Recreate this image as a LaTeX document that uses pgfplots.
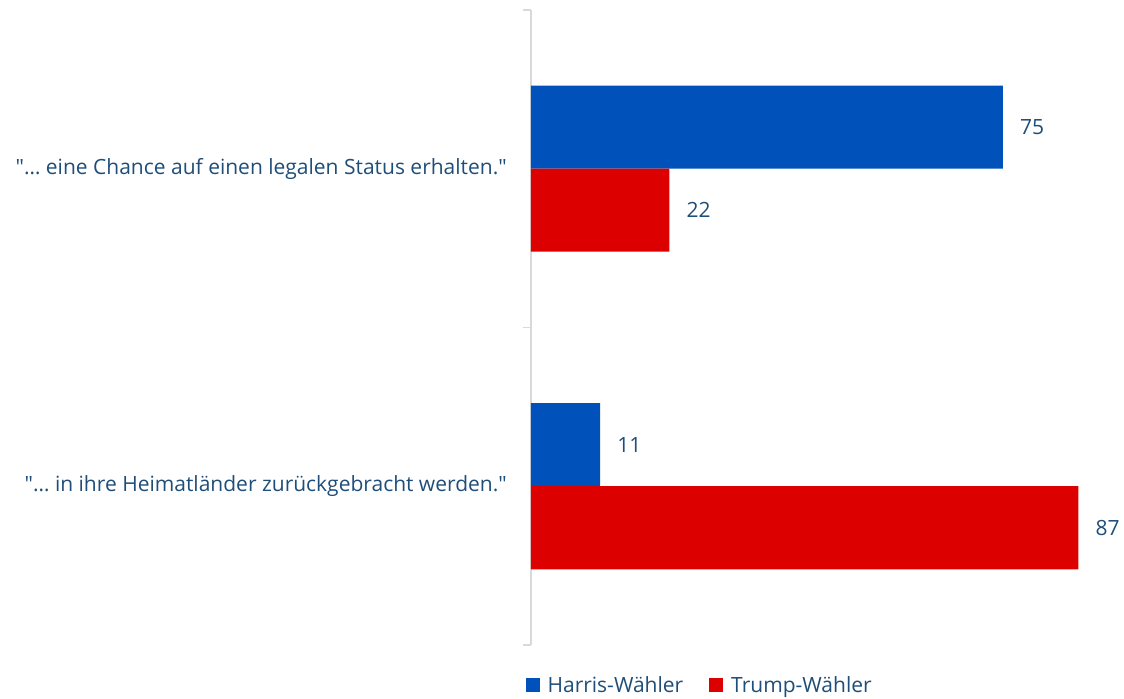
\documentclass[border=0pt]{standalone}
\usepackage{fontspec}
\setmainfont{Open Sans}[Ligatures=TeXOff]
\usepackage{pgfplots}
\pgfplotsset{compat=1.18}
\definecolor{harris}{RGB}{0,82,186}
\definecolor{trump}{RGB}{220,0,0}
\definecolor{txt}{RGB}{31,78,121}
\definecolor{axgray}{RGB}{217,217,217}
\newcommand{\q}{\char34\relax}
\begin{document}
\begin{tikzpicture}
\begin{axis}[
  name=ax,
  scale only axis,
  width=629.3bp, height=635bp,
  xbar, bar width=83bp,
  xmin=0, xmax=100,
  ymin=-0.5, ymax=1.5,
  axis x line=none,
  axis y line*=left,
  y axis line style={draw=axgray, line width=1.2bp},
  ytick={-0.5,0.5,1.5},
  yticklabels={},
  major y tick style={draw=axgray, line width=1.2bp},
  major tick length=8bp,
  tick align=outside,
  extra y ticks={0,1},
  extra y tick labels={{\q… in ihre Heimatländer zurückgebracht werden.\q},{\q… eine Chance auf einen legalen Status erhalten.\q}},
  extra y tick style={major tick length=0pt, tick style={draw=none}},
  yticklabel style={font=\fontsize{21bp}{24bp}\selectfont, text=txt, inner sep=0pt, xshift=-24bp},
  /pgf/number format/assume math mode=true,
  nodes near coords,
  every node near coord/.append style={font=\fontsize{21bp}{24bp}\selectfont, text=txt, anchor=west, inner sep=0pt, xshift=17bp},
  clip=false,
  legend columns=2,
  legend style={draw=none, at={(0.268,0)}, anchor=center, yshift=-40bp,
    font=\fontsize{21bp}{24bp}\selectfont, text=txt, inner sep=0pt,
    /tikz/every even column/.append style={column sep=24bp}},
  legend image code/.code={\fill[#1] (0bp,-7bp) rectangle (14bp,7bp); \path (20bp,0bp);},
]
\addplot[fill=harris, draw=none, bar shift=41.5bp] coordinates {(75,1) (11,0)};
\addplot[fill=trump, draw=none, bar shift=-41.5bp] coordinates {(22,1) (87,0)};
\legend{Harris-Wähler, Trump-Wähler}
\end{axis}
\path ([shift={(-531bp,645bp)}]ax.south west) rectangle ([shift={(593bp,-54bp)}]ax.south west);
\end{tikzpicture}
\end{document}
